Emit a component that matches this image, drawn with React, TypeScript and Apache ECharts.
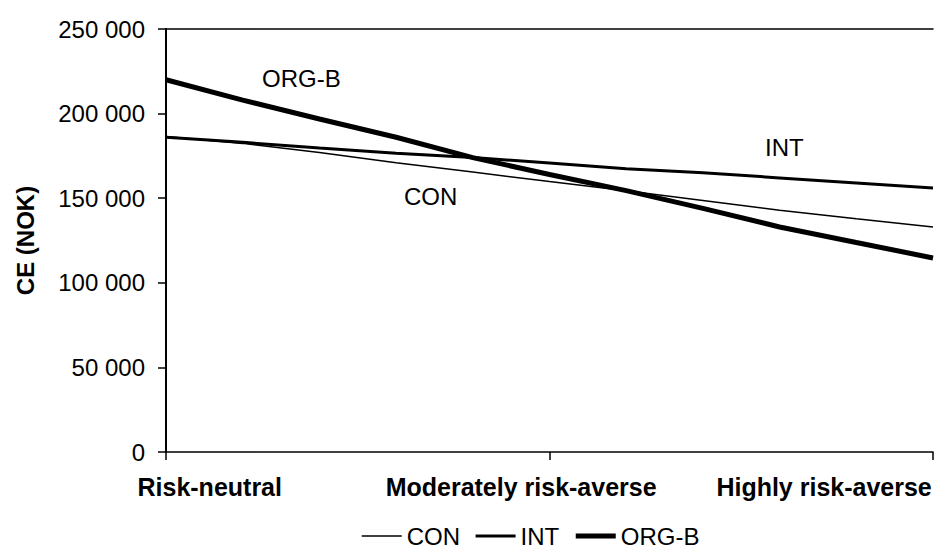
import React, { useEffect, useRef } from "react";
import * as echarts from "echarts";

// x positions of the sampled points along the risk-aversion axis
const xSteps = [0, 1, 2, 3, 4, 5, 6, 7, 8, 9, 10];

// CE (NOK) values
const conValues = [186500, 182400, 177000, 171000, 165500, 159800, 154400, 148600, 142900, 137800, 133000];
const intValues = [186000, 183000, 179700, 176500, 174000, 170800, 167400, 165000, 162000, 159000, 156000];
const orgbValues = [220000, 208000, 196800, 186000, 174000, 164000, 154500, 144000, 133000, 123800, 114700];

const seriesNames = ["CON", "INT", "ORG-B"];
const seriesWidths = [1.5, 3, 5];

// x-axis category labels and where they sit along the axis
const categoryLabels = ["Risk-neutral", "Moderately risk-averse", "Highly risk-averse"];
const categoryLabelPositions = [0.57, 4.63, 8.58];
const xTickPositions = [0, 5, 10];

// y-axis
const yMin = 0;
const yMax = 250000;
const yInterval = 50000;

const FONT = "'Liberation Sans', Arial, sans-serif";

function fmtThousands(v: number): string {
  return String(v).replace(/\B(?=(\d{3})+(?!\d))/g, " ");
}

export default function App() {
  const ref = useRef<HTMLDivElement>(null);

  useEffect(() => {
    document.body.style.margin = "0";
    if (!ref.current) return;
    const chart = echarts.init(ref.current, undefined, { renderer: "svg" });

    const toPairs = (vals: number[]) => xSteps.map((x, i) => [x, vals[i]]);
    const allValues = [conValues, intValues, orgbValues];

    chart.setOption({
      animation: false,
      backgroundColor: "#ffffff",
      textStyle: { fontFamily: FONT, color: "#000" },
      grid: { left: 166, right: 5, top: 29, bottom: 96, containLabel: false },
      xAxis: [
        {
          type: "value",
          min: 0,
          max: 10,
          splitLine: { show: false },
          axisLine: { show: true, onZero: false, lineStyle: { color: "#000", width: 1.5 } },
          axisTick: {
            show: true,
            inside: false,
            length: 8,
            customValues: xTickPositions,
            lineStyle: { color: "#000", width: 1.5 },
          },
          axisLabel: {
            show: true,
            customValues: categoryLabelPositions,
            margin: 22,
            fontSize: 25,
            fontWeight: "bold",
            fontFamily: FONT,
            color: "#000",
            hideOverlap: false,
            formatter: (value: number) => {
              const idx = categoryLabelPositions.findIndex((p) => Math.abs(p - value) < 1e-6);
              return idx >= 0 ? categoryLabels[idx] : "";
            },
          },
        },
        {
          type: "value",
          position: "top",
          min: 0,
          max: 10,
          splitLine: { show: false },
          axisLine: { show: true, onZero: false, lineStyle: { color: "#000", width: 1.5 } },
          axisTick: { show: false },
          axisLabel: { show: false },
        },
      ],
      yAxis: {
        type: "value",
        min: yMin,
        max: yMax,
        interval: yInterval,
        name: "CE (NOK)",
        nameLocation: "middle",
        nameRotate: 90,
        nameGap: 129,
        nameTextStyle: { fontSize: 24, fontWeight: "bold", fontFamily: FONT, color: "#000" },
        splitLine: { show: false },
        axisLine: { show: true, lineStyle: { color: "#000", width: 2 } },
        axisTick: { show: true, inside: false, length: 8, lineStyle: { color: "#000", width: 1.5 } },
        axisLabel: {
          margin: 21,
          fontSize: 24,
          fontFamily: FONT,
          color: "#000",
          formatter: (v: number) => fmtThousands(v),
        },
      },
      legend: {
        show: true,
        left: 356,
        top: 519,
        itemWidth: 40,
        itemHeight: 14,
        itemGap: 14,
        itemStyle: { opacity: 0 },
        textStyle: { fontSize: 24, fontFamily: FONT, color: "#000" },
        data: seriesNames.map((n, i) => ({
          name: n,
          lineStyle: { color: "#000", width: seriesWidths[i] },
          itemStyle: { opacity: 0 },
        })),
      },
      graphic: [
        { type: "text", left: 262, top: 66, style: { text: "ORG-B", font: `24px ${FONT}`, fill: "#000" } },
        { type: "text", left: 404, top: 184, style: { text: "CON", font: `24px ${FONT}`, fill: "#000" } },
        { type: "text", left: 765, top: 135, style: { text: "INT", font: `24px ${FONT}`, fill: "#000" } },
      ],
      series: seriesNames.map((n, i) => ({
        name: n,
        type: "line",
        data: toPairs(allValues[i]),
        symbol: "none",
        lineStyle: { color: "#000", width: seriesWidths[i] },
        itemStyle: { color: "#000" },
      })),
    });

    return () => chart.dispose();
  }, []);

  return <div ref={ref} style={{ width: 938, height: 548 }} />;
}
